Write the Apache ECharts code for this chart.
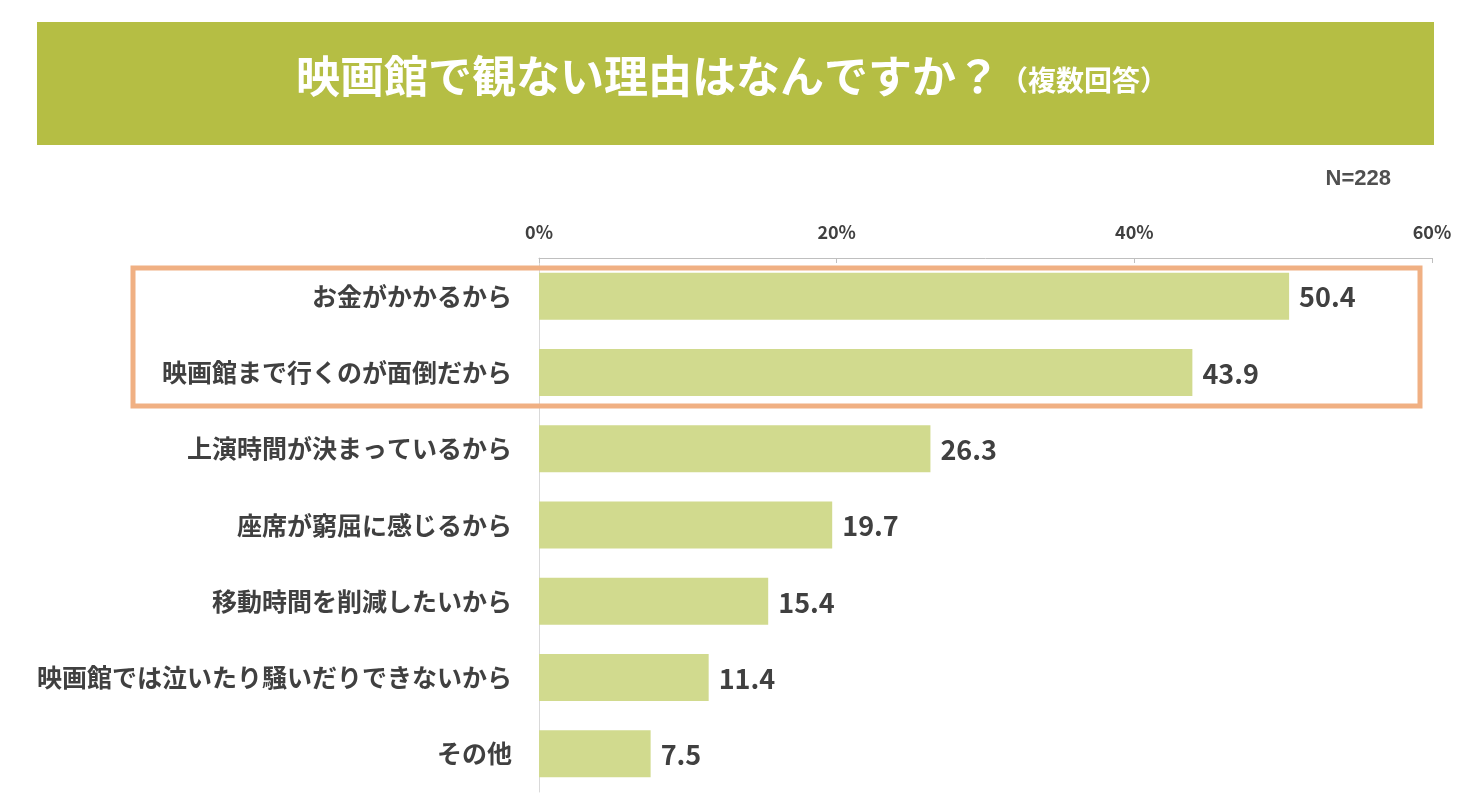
<!DOCTYPE html>
<html>
<head>
<meta charset="utf-8">
<script src="https://cdn.jsdelivr.net/npm/echarts@6/dist/echarts.min.js"></script>
<style>
html, body { margin: 0; padding: 0; background: #fff; }
#chart { width: 1477px; height: 810px; }
</style>
</head>
<body>
<div id="chart"></div>
<script>
// データ
var categories = ['お金がかかるから', '映画館まで行くのが面倒だから', '上演時間が決まっているから', '座席が窮屈に感じるから', '移動時間を削減したいから', '映画館では泣いたり騒いだりできないから', 'その他'];
var values = [50.4, 43.9, 26.3, 19.7, 15.4, 11.4, 7.5];
var axisTicks = [0, 20, 40, 60];

var font = '"Noto Sans CJK JP", "Noto Sans", sans-serif';
var chart = echarts.init(document.getElementById('chart'));

var option = {
    animation: false,
    backgroundColor: '#ffffff',
    textStyle: { fontFamily: font },
    graphic: [
        {
            type: 'rect',
            shape: { x: 37, y: 22, width: 1397, height: 123 },
            style: { fill: '#B5BE44' }
        },
        {
            type: 'text',
            left: 296, top: 54,
            style: {
                rich: {
                    a: { fontSize: 44, fontWeight: 'bold', fill: '#ffffff', fontFamily: font },
                    b: { fontSize: 28, fontWeight: 'bold', fill: '#ffffff', fontFamily: font, padding: [8, 0, 0, 0] }
                },
                text: '{a|映画館で観ない理由はなんですか？}{b|（複数回答）}'
            }
        },
        {
            type: 'text',
            right: 86, top: 168,
            style: { text: 'N=228', fontSize: 22, fontWeight: 'bold', fill: '#505050', fontFamily: 'Liberation Sans, sans-serif' }
        },
        {
            type: 'rect',
            z: 10,
            shape: { x: 133, y: 268, width: 1287, height: 138 },
            style: { fill: 'none', stroke: '#F0B083', lineWidth: 5 }
        }
    ],
    grid: { left: 539, right: 45, top: 258, bottom: 18 },
    xAxis: {
        type: 'value',
        position: 'top',
        min: axisTicks[0],
        max: axisTicks[axisTicks.length - 1],
        interval: 20,
        axisLine: { show: true, lineStyle: { color: '#BFBFBF', width: 1 } },
        axisTick: { show: true, inside: true, length: 5, lineStyle: { color: '#BFBFBF' } },
        splitLine: { show: false },
        axisLabel: {
            formatter: '{value}%',
            fontSize: 18, fontWeight: 'bold', color: '#404040', margin: 17
        }
    },
    yAxis: {
        type: 'category',
        inverse: true,
        data: categories,
        axisLine: { show: true, lineStyle: { color: '#D9D9D9' } },
        axisTick: { show: false },
        axisLabel: { fontSize: 25, fontWeight: 'bold', color: '#404040', margin: 27, padding: [0, 0, 8, 0] }
    },
    series: [{
        type: 'bar',
        data: values,
        barWidth: 47,
        itemStyle: { color: '#D1DA8E' },
        label: {
            show: true,
            position: 'right',
            distance: 10,
            fontSize: 27,
            fontWeight: 'bold',
            color: '#404040',
            offset: [0, 1],
            formatter: function (p) { return p.value.toFixed(1); }
        }
    }]
};
chart.setOption(option);
</script>
</body>
</html>
